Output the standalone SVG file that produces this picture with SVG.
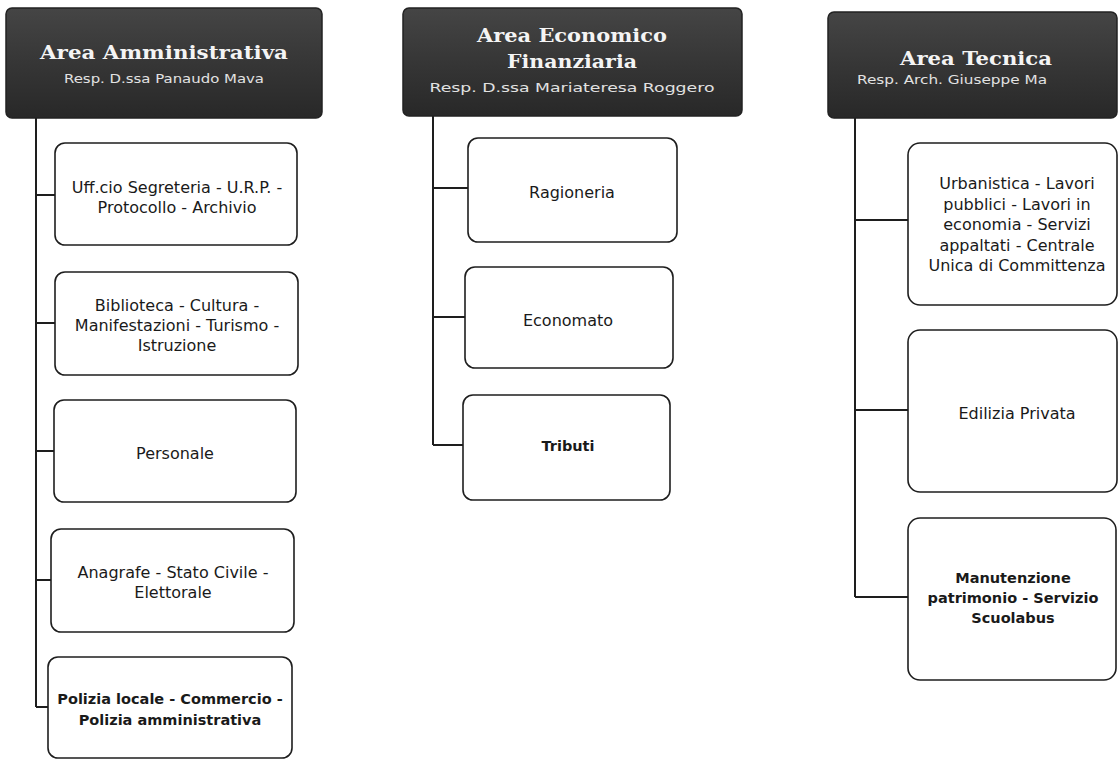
<svg xmlns="http://www.w3.org/2000/svg" width="1120" height="763" viewBox="0 0 1120 763">
<defs>
<linearGradient id="hdr" x1="0" y1="0" x2="0" y2="1">
<stop offset="0" stop-color="#454545"/>
<stop offset="0.5" stop-color="#363636"/>
<stop offset="1" stop-color="#282828"/>
</linearGradient>
<style>
.hdr{fill:url(#hdr);stroke:#222;stroke-width:1.5}
.ttl{font-family:"DejaVu Serif","Liberation Serif",serif;font-weight:bold;font-size:19px;fill:#f4f4f4;text-anchor:middle}
.sub{font-family:"DejaVu Sans","Liberation Sans",sans-serif;font-size:12px;fill:#e2e2e2;text-anchor:middle}
.box{fill:#ffffff;stroke:#1e1e1e;stroke-width:1.6}
.lbl{font-family:"DejaVu Sans","Liberation Sans",sans-serif;font-size:16px;fill:#1a1a1a;text-anchor:middle}
.bld{font-weight:bold;font-size:14.5px}
.con{fill:none;stroke:#1e1e1e;stroke-width:2}
</style>
</defs>
<rect width="1120" height="763" fill="#ffffff"/>

<g id="connectors">
<path class="con" d="M36,118 V707 M36,195 H55 M36,323 H55 M36,451 H54 M36,580 H51 M36,707 H48"/>
<path class="con" d="M433,116 V445 M433,188 H468 M433,317 H465 M433,445 H463"/>
<path class="con" d="M855,118 V597 M855,220 H908 M855,410 H908 M855,597 H908"/>
</g>

<g id="hdr-amministrativa">
<rect class="hdr" x="6" y="8" width="316" height="110" rx="6"/>
<text class="ttl" x="164" y="59" textLength="248" lengthAdjust="spacingAndGlyphs">Area Amministrativa</text>
<text class="sub" x="164" y="83" textLength="200" lengthAdjust="spacingAndGlyphs">Resp. D.ssa Panaudo Mava</text>
</g>
<g id="hdr-economico">
<rect class="hdr" x="403" y="8" width="339" height="108" rx="6"/>
<text class="ttl" x="572" y="42" textLength="190" lengthAdjust="spacingAndGlyphs">Area Economico</text>
<text class="ttl" x="572" y="68" textLength="130" lengthAdjust="spacingAndGlyphs">Finanziaria</text>
<text class="sub" x="572" y="92" textLength="285" lengthAdjust="spacingAndGlyphs">Resp. D.ssa Mariateresa Roggero</text>
</g>
<g id="hdr-tecnica">
<rect class="hdr" x="828" y="12" width="289" height="106" rx="6"/>
<text class="ttl" x="976" y="65" textLength="152" lengthAdjust="spacingAndGlyphs">Area Tecnica</text>
<text class="sub" x="952" y="84" textLength="190" lengthAdjust="spacingAndGlyphs">Resp. Arch. Giuseppe Ma</text>
</g>

<g id="segreteria">
<rect class="box" x="55" y="143" width="242" height="102" rx="10"/>
<text class="lbl" x="177" y="193">Uff.cio Segreteria - U.R.P. -</text>
<text class="lbl" x="177" y="213">Protocollo - Archivio</text>
</g>
<g id="biblioteca">
<rect class="box" x="55" y="272" width="243" height="103" rx="10"/>
<text class="lbl" x="177" y="311">Biblioteca - Cultura -</text>
<text class="lbl" x="177" y="331">Manifestazioni - Turismo -</text>
<text class="lbl" x="177" y="351">Istruzione</text>
</g>
<g id="personale">
<rect class="box" x="54" y="400" width="242" height="102" rx="10"/>
<text class="lbl" x="175" y="459">Personale</text>
</g>
<g id="anagrafe">
<rect class="box" x="51" y="529" width="243" height="103" rx="10"/>
<text class="lbl" x="173" y="578">Anagrafe - Stato Civile -</text>
<text class="lbl" x="173" y="598">Elettorale</text>
</g>
<g id="polizia">
<rect class="box" x="48" y="657" width="244" height="101" rx="10"/>
<text class="lbl bld" x="170" y="704">Polizia locale - Commercio -</text>
<text class="lbl bld" x="170" y="725">Polizia amministrativa</text>
</g>

<g id="ragioneria">
<rect class="box" x="468" y="138" width="209" height="104" rx="10"/>
<text class="lbl" x="572" y="198">Ragioneria</text>
</g>
<g id="economato">
<rect class="box" x="465" y="267" width="208" height="101" rx="10"/>
<text class="lbl" x="568" y="326">Economato</text>
</g>
<g id="tributi">
<rect class="box" x="463" y="395" width="207" height="105" rx="10"/>
<text class="lbl bld" x="568" y="451">Tributi</text>
</g>

<g id="urbanistica">
<rect class="box" x="908" y="143" width="209" height="162" rx="12"/>
<text class="lbl" x="1017" y="189">Urbanistica - Lavori</text>
<text class="lbl" x="1017" y="209.5">pubblici - Lavori in</text>
<text class="lbl" x="1017" y="230">economia - Servizi</text>
<text class="lbl" x="1017" y="250.5">appaltati - Centrale</text>
<text class="lbl" x="1017" y="271">Unica di Committenza</text>
</g>
<g id="edilizia">
<rect class="box" x="908" y="330" width="209" height="162" rx="12"/>
<text class="lbl" x="1017" y="419">Edilizia Privata</text>
</g>
<g id="manutenzione">
<rect class="box" x="908" y="518" width="208" height="162" rx="12"/>
<text class="lbl bld" x="1013" y="583">Manutenzione</text>
<text class="lbl bld" x="1013" y="603">patrimonio - Servizio</text>
<text class="lbl bld" x="1013" y="623">Scuolabus</text>
</g>
</svg>
